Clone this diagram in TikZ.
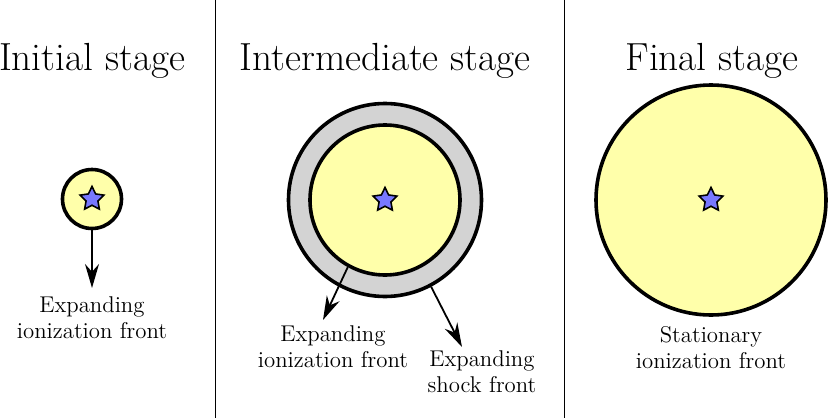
\documentclass[tikz,border=0pt]{standalone}
\usepackage{xcolor}
\usepackage{tikz}
\usetikzlibrary{shapes.geometric,arrows.meta,positioning}
\definecolor{frontyellow}{RGB}{255,255,170}
\definecolor{shellgray}{RGB}{211,211,211}
\definecolor{starblue}{RGB}{120,120,255}

\begin{document}
\begin{tikzpicture}[
    x=0.5pt, y=-0.5pt,
    title/.style={anchor=base, font=\fontsize{19.6}{23}\selectfont},
    frontlabel/.style={anchor=north, align=center, inner sep=0pt, font=\fontsize{11.4}{13}\selectfont},
    region/.style={circle, draw, line width=1.8pt, fill=frontyellow, inner sep=0pt},
    source/.style={star, star points=5, star point ratio=2, draw, line width=0.8pt, fill=starblue, minimum size=12.5pt, inner sep=0pt},
    flow/.style={-{Stealth[length=12pt,width=7pt]}, line width=0.9pt}
]
\useasboundingbox (0,0) rectangle (830,418);

% stage separators
\draw[line width=0.5pt] (215,0) -- (215,418);
\draw[line width=0.5pt] (564,0) -- (564,418);

% titles
\node[title] (initial) at (92,70) {Initial stage};
\node[title] (intermediate) at (385,70) {Intermediate stage};
\node[title] (final) at (712,70) {Final stage};

% initial stage
\node[region, minimum size=29.5pt] (hii1) at (92,199) {};
\node[source] (star1) at (hii1.center) {};
\node[frontlabel] (ifront1) at (92,296) {Expanding\\ionization front};
\draw[flow, shorten >=4pt] (hii1.south) -- (ifront1.north);

% intermediate stage
\node[region, fill=shellgray, minimum size=96.5pt] (shell2) at (385,200) {};
\node[region, minimum size=75pt] (hii2) at (385,200) {};
\node[source] (star2) at (hii2.center) {};
\coordinate (tip2a) at (323,320);
\coordinate (tip2b) at (462,347);
\node[frontlabel] (ifront2) at (333,325) {Expanding\\ionization front};
\node[frontlabel] (sfront2) at (482,350) {Expanding\\shock front};
\draw[flow] (hii2.241) -- (tip2a);
\draw[flow] (shell2.298) -- (tip2b);

% final stage
\node[region, minimum size=115pt] (hii3) at (711,200) {};
\node[source] (star3) at (hii3.center) {};
\node[frontlabel] (ifront3) at (711,326) {Stationary\\ionization front};
\end{tikzpicture}
\end{document}
